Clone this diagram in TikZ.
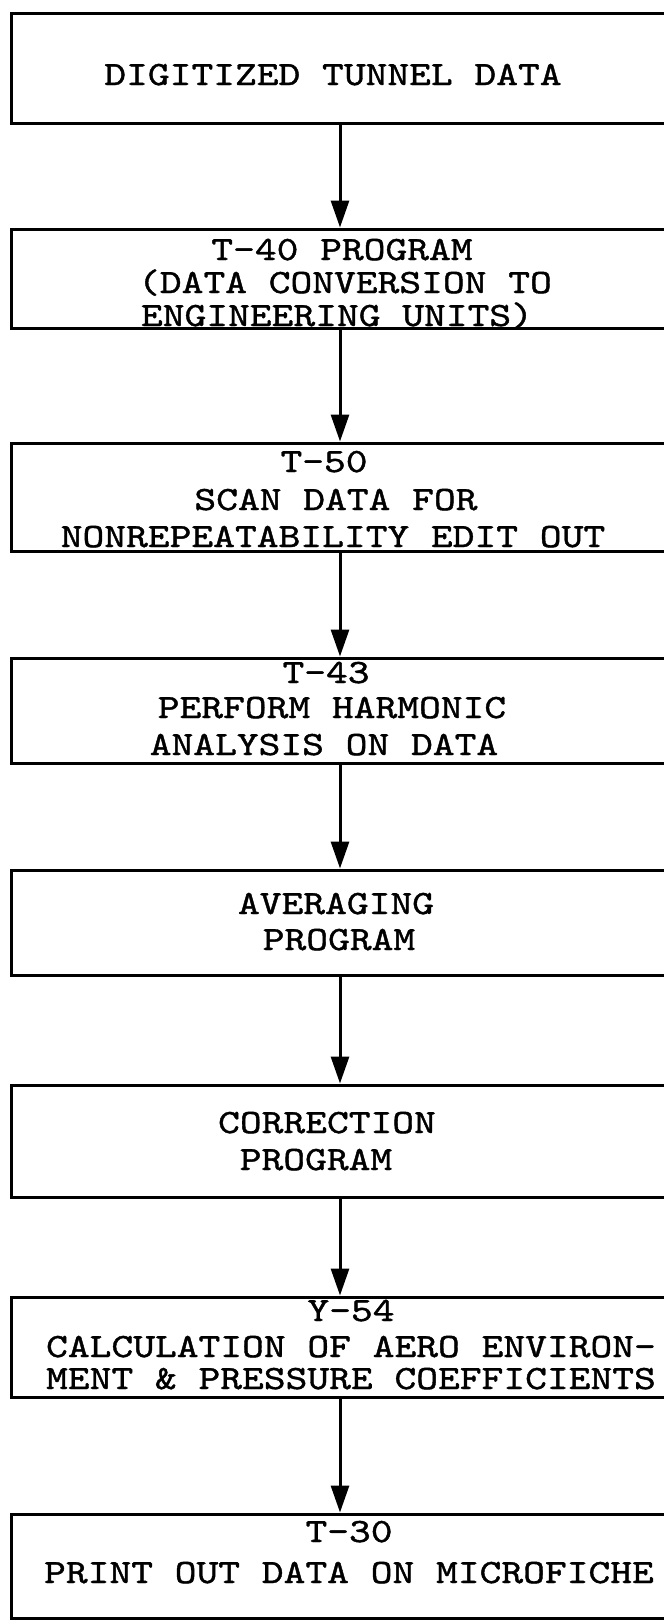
\documentclass[tikz,border=0pt]{standalone}
\usepackage{fontspec}
\newfontfamily\typer[FakeStretch=1.22, FakeBold=1.2]{lmmono10-regular.otf}
\usetikzlibrary{arrows.meta}

\tikzset{
  stepbox/.style={draw=black, line width=3pt, rectangle, minimum width=658pt, inner sep=0pt},
  txt/.style={anchor=base, inner sep=0pt, font=\typer\fontsize{34}{36}\selectfont},
  flow/.style={line width=3pt, -{Triangle[length=27pt,width=18pt]}},
}

\begin{document}
\begin{tikzpicture}[x=1pt, y=-1pt]
\useasboundingbox (0,0) rectangle (664,1620);
\clip (0,0) rectangle (664,1620);

% boxes (right side runs off the page)
\node[stepbox, minimum height=110pt] (digit) at (340, 68) {};
\node[stepbox, minimum height=99pt] (conv) at (340, 278.5) {};
\node[stepbox, minimum height=108pt] (scan) at (340, 497) {};
\node[stepbox, minimum height=105pt] (harm) at (340, 710.5) {};
\node[stepbox, minimum height=105pt] (avg) at (340, 922.5) {};
\node[stepbox, minimum height=112pt] (corr) at (340, 1141) {};
\node[stepbox, minimum height=100pt] (aero) at (340, 1347) {};
\node[stepbox, minimum height=104pt] (fiche) at (340, 1566) {};

% texts
\node[txt] (digit1) at (333, 85) {DIGITIZED TUNNEL DATA};

\node[txt] (conv1) at (342, 260) {T-40 PROGRAM};
\node[txt] (conv2) at (345, 293) {(DATA CONVERSION TO};
\node[txt] (conv3) at (337, 326) {ENGINEERING UNITS)};

\node[txt] (scan1) at (324, 472) {T-50};
\node[txt] (scan2) at (336, 510) {SCAN DATA FOR};
\node[txt] (scan3) at (333, 547) {NONREPEATABILITY EDIT OUT};

\node[txt] (harm1) at (326, 683) {T-43};
\node[txt] (harm2) at (332, 718) {PERFORM HARMONIC};
\node[txt] (harm3) at (324, 755) {ANALYSIS ON DATA};

\node[txt] (avg1) at (336, 914) {AVERAGING};
\node[txt] (avg2) at (339, 950) {PROGRAM};

\node[txt] (corr1) at (327, 1133) {CORRECTION};
\node[txt] (corr2) at (316, 1170) {PROGRAM};

\node[txt] (aero1) at (351, 1321) {Y-54};
\node[txt] (aero2) at (351, 1357) {CALCULATION OF AERO ENVIRON-};
\node[txt] (aero3) at (351, 1389) {MENT \& PRESSURE COEFFICIENTS};

\node[txt] (fiche1) at (349, 1542) {T-30};
\node[txt] (fiche2) at (349, 1583) {PRINT OUT DATA ON MICROFICHE};

% arrows
\draw[flow] (digit) -- (conv);
\draw[flow] (conv) -- (scan);
\draw[flow] (scan) -- (harm);
\draw[flow] (harm) -- (avg);
\draw[flow] (avg) -- (corr);
\draw[flow] (corr) -- (aero);
\draw[flow] (aero) -- (fiche);

\end{tikzpicture}
\end{document}
